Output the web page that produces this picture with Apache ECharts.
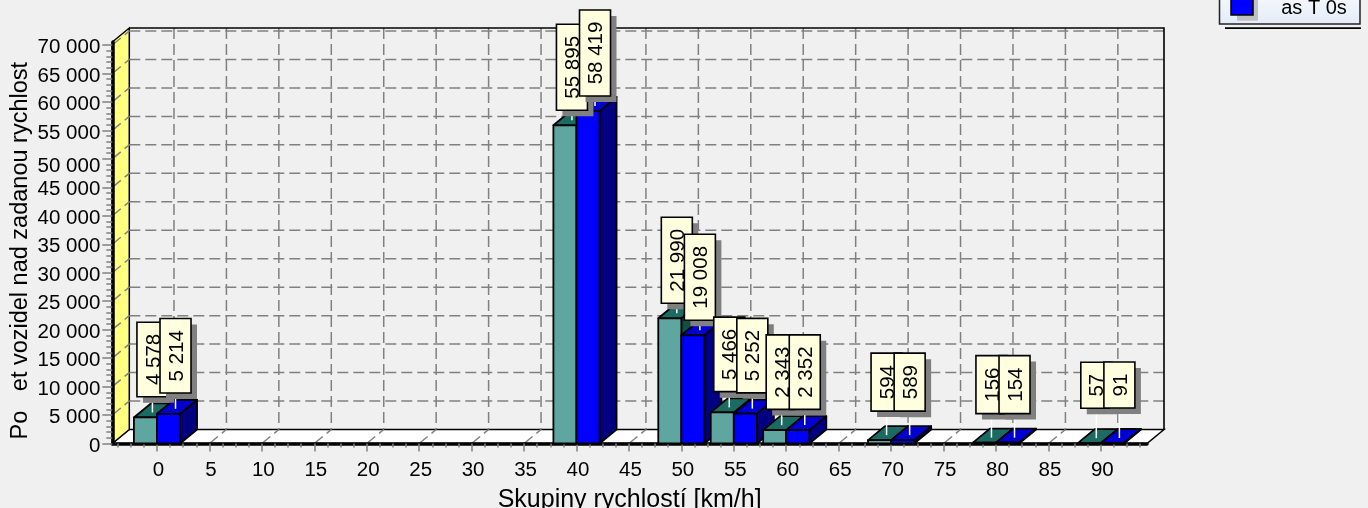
<!DOCTYPE html>
<html><head><meta charset="utf-8">
<style>html,body{margin:0;padding:0;background:#f0f0f0}#c{width:1368px;height:508px}</style>
<script src="https://cdn.jsdelivr.net/npm/echarts@6/dist/echarts.min.js"></script>
</head><body><div id="c"></div>
<script>
const speedGroups = [0, 40, 50, 55, 60, 70, 80, 90];
const countsFirst = [4578, 55895, 21990, 5466, 2343, 594, 156, 57];
const countsSecond = [5214, 58419, 19008, 5252, 2352, 589, 154, 91];
const xTickLabels = [0,5,10,15,20,25,30,35,40,45,50,55,60,65,70,75,80,85,90];
const yTickLabels = [0,5000,10000,15000,20000,25000,30000,35000,40000,45000,50000,55000,60000,65000,70000];
const xTitle = 'Skupiny rychlostí [km/h]';
const yTitle = 'Po   et vozidel nad zadanou rychlost';
const legendText = 'as T 0s';

const FONT = '"Liberation Sans", Arial, sans-serif';
const XMIN = -4.26, XMAX = 94.4, YMAX = 70527;
const DX = 17, DY = -14, BARW = 2.2;
const xMinor = [], yMinor = [];
for (let v = -3.75; v < XMAX; v += 1.25) xMinor.push(v);
for (let v = 0; v <= 70000; v += 1000) yMinor.push(v);
const fmt = v => String(v).replace(/\B(?=(\d{3})+$)/g, ' ');
const BOX_H = {2: 46, 3: 58, 4: 74.5, 5: 86};

function frameItem(params, api) {
  const P = (x, y, dx, dy) => { const c = api.coord([x, y]); return [c[0] + (dx || 0), c[1] + (dy || 0)]; };
  const kids = [];
  kids.push({type:'polygon', shape:{points:[P(XMIN,0),P(XMAX,0),P(XMAX,0,DX,DY),P(XMIN,0,DX,DY)]}, style:{fill:'#fff', stroke:'#000', lineWidth:1.5}});
  kids.push({type:'polygon', shape:{points:[P(XMIN,0),P(XMIN,YMAX),P(XMIN,YMAX,DX,DY),P(XMIN,0,DX,DY)]}, style:{fill:'#ffff80', stroke:'#000', lineWidth:1.5}});
  const dash = {fill:null, stroke:'#808080', lineWidth:1.5, lineDash:[11,5]};
  const seg = (a, b) => kids.push({type:'polyline', shape:{points:[a,b]}, style:dash});
  yTickLabels.forEach(v => {
    if (v === 0) return;
    seg(P(XMIN, v), P(XMIN, v, DX, DY));
    seg(P(XMIN, v, DX, DY), P(XMAX, v, DX, DY));
  });
  xTickLabels.forEach(v => {
    seg(P(v, 0), P(v, 0, DX, DY));
    seg(P(v, YMAX, DX, DY), P(v, 0, DX, DY));
  });
  kids.push({type:'polyline', shape:{points:[P(XMIN,YMAX,DX,DY),P(XMAX,YMAX,DX,DY),P(XMAX,0,DX,DY)]}, style:{fill:null, stroke:'#000', lineWidth:1.6}});
  return {type:'group', children:kids};
}

function barItem(front, top, side, s) {
  return function (params, api) {
    const cat = api.value(0), val = api.value(1);
    const x0v = s === 0 ? cat - BARW : cat, x1v = x0v + BARW;
    const [x0,y0] = api.coord([x0v, val]), [x1,y1] = api.coord([x1v, 0]);
    const line = {stroke:'#000', lineWidth:1.8, lineJoin:'round'};
    const z = params.dataIndex * 2 + s + 10;
    return {type:'group', children:[
      {type:'polygon', z2:z, shape:{points:[[x1,y0],[x1+DX,y0+DY],[x1+DX,y1+DY],[x1,y1]]}, style:Object.assign({fill:side}, line)},
      {type:'polygon', z2:z, shape:{points:[[x0,y0],[x0+DX,y0+DY],[x1+DX,y0+DY],[x1,y0]]}, style:Object.assign({fill:top}, line)},
      {type:'rect', z2:z, shape:{x:x0,y:y0,width:x1-x0,height:y1-y0}, style:Object.assign({fill:front}, line)}
    ]};
  };
}

function labelItem(s) {
  return function (params, api) {
    const cat = api.value(0), val = api.value(1);
    const xc = api.coord([s === 0 ? cat - BARW/2 : cat + BARW/2, val]);
    const cx = xc[0] + 7, barTop = xc[1], cy = barTop - 58;
    const txt = fmt(val), w = 31, h = BOX_H[String(val).length];
    const z = 100 + params.dataIndex * 2 + s;
    const bottom = cy + h/2;
    return {type:'group', children:[
      {type:'line', z2:z, shape:{x1:cx,y1:bottom,x2:cx,y2:barTop-5}, style:{stroke:'#fff',lineWidth:1.5}},
      {type:'rect', z2:z, shape:{x:cx-w/2+6,y:cy-h/2+6,width:w,height:h}, style:{fill:'#808080'}},
      {type:'rect', z2:z, shape:{x:cx-w/2,y:cy-h/2,width:w,height:h}, style:{fill:'#ffffe0',stroke:'#000',lineWidth:1.6}},
      {type:'text', z2:z, x:cx+1.5, y:cy, rotation:Math.PI/2, style:{text:txt, x:0, y:0, align:'center', verticalAlign:'middle', fill:'#000', font:'20.5px '+FONT}}
    ]};
  };
}

const toPairs = arr => speedGroups.map((g,i) => [g, arr[i]]);
const chart = echarts.init(document.getElementById('c'), null, {renderer:'canvas'});
const axisText = {color:'#000', fontSize:20.5, fontFamily:FONT};
const tickLine = {color:'#808080', width:1.5};
const option = {
  animation:false,
  backgroundColor:'#f0f0f0',
  grid:{left:112.3, top:42, width:1034.7, height:401.5, show:false, containLabel:false, outerBoundsMode:'none'},
  xAxis:[
    {type:'value', z:1.5, min:XMIN, max:XMAX, position:'bottom', splitLine:{show:false},
     name:xTitle, nameLocation:'middle', nameGap:44, nameMoveOverlap:false, nameTextStyle:{color:'#000', fontSize:25, fontFamily:FONT},
     axisLine:{show:true, onZero:false, lineStyle:{color:'#000', width:3.5}},
     axisTick:{show:true, length:8, inside:false, lineStyle:tickLine, customValues:xTickLabels},
     axisLabel:Object.assign({show:true, margin:16.5, padding:[0,0,0,3], customValues:xTickLabels, formatter:v=>String(v)}, axisText)},
    {type:'value', z:1.5, min:XMIN, max:XMAX, position:'bottom', splitLine:{show:false},
     axisLine:{show:false, onZero:false}, axisLabel:{show:false},
     axisTick:{show:true, length:4, lineStyle:tickLine, customValues:xMinor}}
  ],
  yAxis:[
    {type:'value', z:1.5, min:0, max:YMAX, position:'left', splitLine:{show:false},
     name:yTitle, nameLocation:'middle', nameGap:80, nameMoveOverlap:false, nameRotate:90, nameTextStyle:{color:'#000', fontSize:23.5, fontFamily:FONT, padding:[0,16,0,0]},
     axisLine:{show:true, onZero:false, lineStyle:{color:'#000', width:3.5}},
     axisTick:{show:true, length:10, lineStyle:tickLine, customValues:yTickLabels},
     axisLabel:Object.assign({show:true, margin:12, padding:[5,0,0,0], customValues:yTickLabels,
       formatter:v=> v===50000 ? '{s|'+fmt(v)+'}' : fmt(v),
       rich:{s:{fontSize:20.5, fontFamily:FONT, color:'#000', padding:[9,0,0,0]}}}, axisText)},
    {type:'value', z:1.5, min:0, max:YMAX, position:'left', splitLine:{show:false},
     axisLine:{show:false, onZero:false}, axisLabel:{show:false},
     axisTick:{show:true, length:6, lineStyle:tickLine, customValues:yMinor}}
  ],
  series:[
    {type:'custom', name:'frame', z:1, data:[[0,0]], encode:{x:0,y:1}, silent:true, renderItem:frameItem},
    {type:'custom', name:'Series 1', z:2, data:toPairs(countsFirst), encode:{x:0,y:1}, renderItem:barItem('#5fa5a0','#1c6b62','#0f4f48',0)},
    {type:'custom', name:legendText, z:2, data:toPairs(countsSecond), encode:{x:0,y:1}, renderItem:barItem('#0000ff','#0000d0','#000080',1)},
    {type:'custom', name:'Labels 1', z:3, data:toPairs(countsFirst), encode:{x:0,y:1}, renderItem:labelItem(0)},
    {type:'custom', name:'Labels 2', z:3, data:toPairs(countsSecond), encode:{x:0,y:1}, renderItem:labelItem(1)}
  ],
  graphic:[
    {type:'rect', z:50, shape:{x:1225,y:27.2,width:136,height:1.8}, style:{fill:'#000'}},
    {type:'rect', z:51, shape:{x:1219.5,y:-20,width:140.5,height:44}, style:{stroke:'#222',lineWidth:1.5,
      fill:{type:'linear',x:0,y:0,x2:0,y2:1,colorStops:[{offset:0,color:'#ffffff'},{offset:1,color:'#e4ecf8'}]}}},
    {type:'rect', z:52, shape:{x:1237,y:-5,width:21,height:25.7}, style:{fill:'#c0c0c0'}},
    {type:'rect', z:53, shape:{x:1231,y:-10,width:22,height:25}, style:{fill:'#0000ff',stroke:'#000',lineWidth:1.5}},
    {type:'text', z:53, style:{text:legendText, x:1314, y:8, align:'center', verticalAlign:'middle', fill:'#000', font:'20px '+FONT}}
  ]
};
chart.setOption(option);
</script></body></html>
